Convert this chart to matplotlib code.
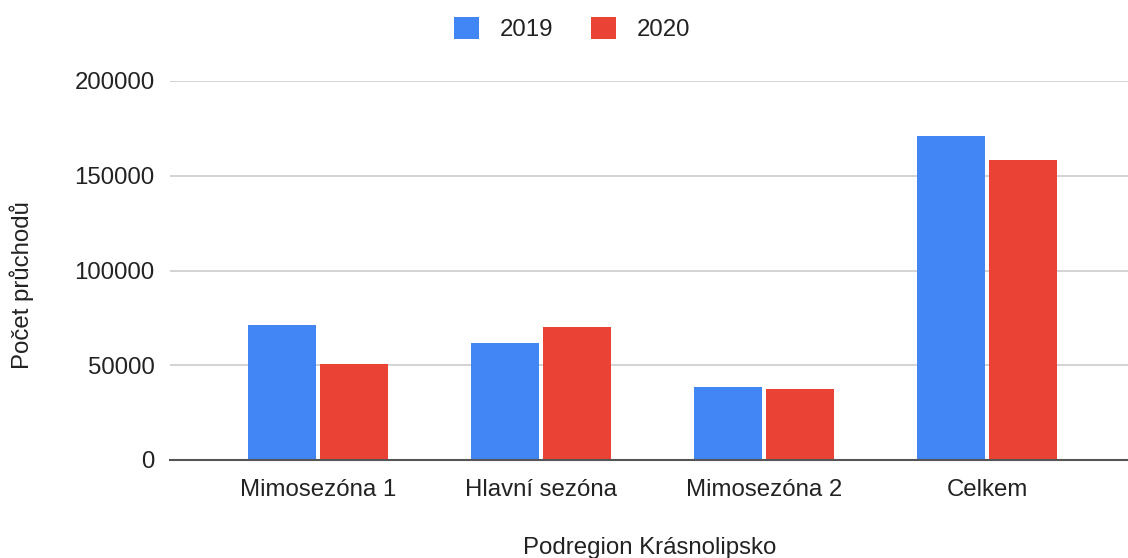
import numpy as np
import matplotlib.pyplot as plt
from matplotlib.patches import Patch

# data
categories = ['Mimosezóna 1', 'Hlavní sezóna', 'Mimosezóna 2', 'Celkem']
series_names = ['2019', '2020']
values_2019 = [71300, 61700, 38700, 170800]
values_2020 = [50400, 70400, 37500, 158200]
yticks = [0, 50000, 100000, 150000, 200000]

BLUE = '#4285F4'
RED = '#EA4335'
GRID = '#CCCCCC'
TEXT = '#222222'

plt.rcParams['font.family'] = ['Liberation Sans', 'DejaVu Sans']

fig = plt.figure(figsize=(11.28, 5.58), dpi=100)
ax = fig.add_axes([170 / 1128, 1 - 460 / 558, 1 - 170 / 1128, (460 - 81) / 558])

x = np.arange(len(categories))
w = 0.305
ax.bar(x - 0.162, values_2019, width=w, color=BLUE, zorder=3)
ax.bar(x + 0.162, values_2020, width=w, color=RED, zorder=3)

ax.set_xlim(-0.664, 3.632)
ax.set_ylim(0, 200000)
ax.set_yticks(yticks)
ax.set_yticklabels([str(v) for v in yticks])
ax.set_xticks(x)
ax.set_xticklabels(categories)

ax.grid(axis='y', color=GRID, linewidth=1.2, zorder=0)
for s in ['top', 'right', 'left']:
    ax.spines[s].set_visible(False)
ax.spines['bottom'].set_color('#555555')
ax.spines['bottom'].set_linewidth(1.5)
ax.spines['bottom'].set_zorder(4)

ax.tick_params(axis='y', length=0, pad=11, labelsize=17.3, labelcolor=TEXT)
ax.tick_params(axis='x', length=0, pad=14, labelsize=17.3, labelcolor=TEXT)

fig.text(22 / 1128, 1 - 285 / 558, 'Počet průchodů', rotation=90,
         ha='center', va='center', fontsize=17.3, color=TEXT)
fig.text(650 / 1128, 1 - 548 / 558, 'Podregion Krásnolipsko',
         ha='center', va='center', fontsize=17.3, color=TEXT)

handles = [Patch(facecolor=BLUE, label=series_names[0]),
           Patch(facecolor=RED, label=series_names[1])]
fig.legend(handles=handles, loc='center', bbox_to_anchor=(572 / 1128, 1 - 29 / 558),
           ncol=2, frameon=False, fontsize=17.3, handlelength=1.05, handleheight=1.05,
           handletextpad=0.85, columnspacing=1.6, labelcolor=TEXT)

fig.savefig('out.png', dpi=100, facecolor='white')
